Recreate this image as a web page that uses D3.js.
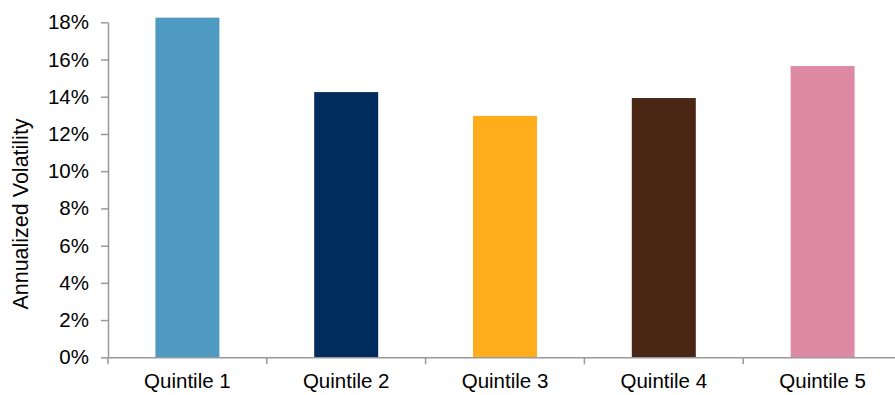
<!DOCTYPE html>
<html>
<head>
<meta charset="utf-8">
<script src="https://cdn.jsdelivr.net/npm/d3@7"></script>
<style>
  html, body { margin: 0; padding: 0; background: #fff; }
  svg { display: block; font-family: "Liberation Sans", Arial, sans-serif; }
</style>
</head>
<body>
<svg id="chart" width="895" height="395"></svg>
<script>
const categories = ["Quintile 1", "Quintile 2", "Quintile 3", "Quintile 4", "Quintile 5"];
const volatility = [18.25, 14.25, 12.97, 13.93, 15.65];
const barColors = ["#4F9AC3", "#002D5E", "#FFAD1A", "#4A2615", "#DE8AA5"];
const yTicks = [0, 2, 4, 6, 8, 10, 12, 14, 16, 18];

const svg = d3.select("#chart");
const plotLeft = 108, plotRight = 902, plotTop = 22.3, plotBottom = 357.3;
const labelSize = "20.5px";

const x = d3.scaleBand().domain(categories).range([plotLeft, plotRight]).paddingInner(0).paddingOuter(0);
const y = d3.scaleLinear().domain([0, 18]).range([plotBottom, plotTop]);
const barW = 64;

// bars
svg.append("g").selectAll("rect")
  .data(categories)
  .join("rect")
  .attr("x", (d) => x(d) + x.bandwidth() / 2 - barW / 2)
  .attr("width", barW)
  .attr("y", (d, i) => y(volatility[i]))
  .attr("height", (d, i) => plotBottom - y(volatility[i]))
  .attr("fill", (d, i) => barColors[i]);

// y axis
const yAxis = svg.append("g")
  .attr("transform", `translate(${plotLeft},0)`)
  .call(d3.axisLeft(y).tickValues(yTicks).tickFormat(d => d + "%").tickSize(7).tickSizeOuter(0).tickPadding(12));
yAxis.select(".domain").attr("stroke", "#999").attr("stroke-width", 1.5);
yAxis.selectAll(".tick line").attr("stroke", "#999").attr("stroke-width", 1.5);
yAxis.selectAll(".tick text").attr("fill", "#000").style("font-size", labelSize);

// x axis
const xAxis = svg.append("g")
  .attr("transform", `translate(0,${plotBottom})`)
  .call(d3.axisBottom(x).tickSize(0).tickPadding(16));
xAxis.select(".domain").attr("stroke", "#999").attr("stroke-width", 1.5);
xAxis.selectAll(".tick text").attr("fill", "#000").style("font-size", labelSize);

// x separators between categories
const bounds = categories.map(c => x(c)).concat([plotRight]);
svg.append("g").selectAll("line")
  .data(bounds)
  .join("line")
  .attr("x1", d => d).attr("x2", d => d)
  .attr("y1", plotBottom).attr("y2", plotBottom + 7)
  .attr("stroke", "#999").attr("stroke-width", 1.5);

// y axis title
svg.append("text")
  .attr("transform", "translate(27.5,214) rotate(-90)")
  .attr("text-anchor", "middle")
  .style("font-size", "21.5px")
  .attr("fill", "#000")
  .text("Annualized Volatility");
</script>
</body>
</html>
